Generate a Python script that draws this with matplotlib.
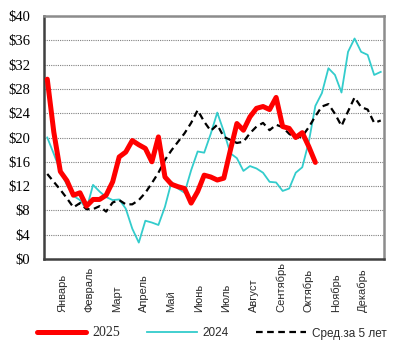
import matplotlib
matplotlib.use('Agg')
import matplotlib.pyplot as plt
import numpy as np

# weekly prices, $ (week 1..52)
weeks = np.arange(1, 53)

price_2025 = [29.6, 20.9, 14.4, 12.9, 10.5, 10.9, 8.7, 9.8, 9.8, 10.5,
              12.7, 16.8, 17.6, 19.5, 18.8, 18.2, 16.0, 20.1, 13.5, 12.3,
              11.9, 11.6, 9.2, 11.1, 13.8, 13.5, 13.0, 13.3, 17.9, 22.3,
              21.2, 23.4, 24.8, 25.1, 24.6, 26.6, 21.8, 21.5, 20.0, 20.8,
              18.5, 15.9]

price_2024 = [20.0, 17.3, 14.5, 12.2, 10.4, 9.7, 8.2, 12.2, 11.1, 10.2,
              9.7, 9.8, 8.3, 5.0, 2.7, 6.3, 6.0, 5.6, 8.6, 12.7,
              11.6, 10.9, 14.6, 17.7, 17.5, 20.6, 24.1, 21.0, 17.4, 16.6,
              14.5, 15.3, 14.9, 14.2, 12.7, 12.6, 11.2, 11.6, 14.2, 15.1,
              19.3, 25.2, 27.3, 31.4, 30.3, 27.4, 34.1, 36.3, 34.1, 33.6,
              30.3, 30.8]

avg_5y = [14.0, 12.7, 11.4, 10.0, 8.5, 9.2, 8.2, 8.2, 8.7, 7.8,
          9.3, 9.7, 9.0, 9.0, 9.7, 10.9, 12.5, 14.2, 16.3, 17.9,
          19.3, 20.7, 22.4, 24.5, 22.6, 21.1, 22.1, 20.1, 19.6, 19.1,
          19.3, 20.7, 21.8, 22.4, 21.2, 22.1, 21.7, 20.6, 19.9, 20.2,
          21.7, 23.5, 25.1, 25.5, 23.9, 21.9, 24.3, 26.6, 25.0, 24.6,
          22.4, 22.8]

months = ['Январь', 'Февраль', 'Март', 'Апрель', 'Май', 'Июнь',
          'Июль', 'Август', 'Сентябрь', 'Октябрь', 'Ноябрь', 'Декабрь']
yticks = [0, 4, 8, 12, 16, 20, 24, 28, 32, 36, 40]

fig = plt.figure(figsize=(4.03, 3.51), dpi=100)
ax = fig.add_axes([44/403, 1-259/351, 340/403, 243/351])

ax.plot(weeks[:len(price_2025)], price_2025, color='#ff0000', lw=3.6,
        solid_capstyle='round', solid_joinstyle='round', label='2025',
        zorder=4)
ax.plot(weeks, price_2024, color='#33cccc', lw=1.3, solid_joinstyle='round',
        label='2024', zorder=3)
ax.plot(weeks, avg_5y, color='black', lw=1.6, dashes=(3, 2),
        label='Сред.за 5 лет', zorder=3)

ax.set_xlim(0.5, 52.5)
ax.set_ylim(0, 40)
ax.set_yticks(yticks)
ax.set_yticklabels(['$%d' % v for v in yticks], family='Liberation Serif',
                   fontsize=10.5)
ax.set_xticks([])
ax.tick_params(axis='y', length=0, pad=10)
ax.yaxis.grid(True, ls=(0, (1, 1)), color='#808080', lw=0.8)
ax.set_axisbelow(True)

for s in ['left', 'bottom']:
    ax.spines[s].set_color('#404040')
    ax.spines[s].set_linewidth(1.8)
for s in ['top', 'right']:
    ax.spines[s].set_color('#8c8c8c')
    ax.spines[s].set_linewidth(1.8)

xpos = np.linspace(3.25, 49.3, 12)
for x, m in zip(xpos, months):
    ax.text(x, -0.218, m, transform=ax.get_xaxis_transform(), rotation=90,
            ha='center', va='bottom', fontsize=8, color='#2a2a2a',
            family='Liberation Sans')

leg = fig.legend(loc='center', bbox_to_anchor=(0.525, 18/351), ncol=3,
                 frameon=False, handlelength=4.2, handletextpad=0.5,
                 columnspacing=2.3, fontsize=8.5)
fams = ['Liberation Serif', 'Liberation Sans', 'Liberation Sans']
sizes = [10, 8.5, 8.5]
for t, f, sz in zip(leg.get_texts(), fams, sizes):
    t.set_family(f)
    t.set_fontsize(sz)
    t.set_color('#2a2a2a')

plt.savefig('out.png', dpi=100)
